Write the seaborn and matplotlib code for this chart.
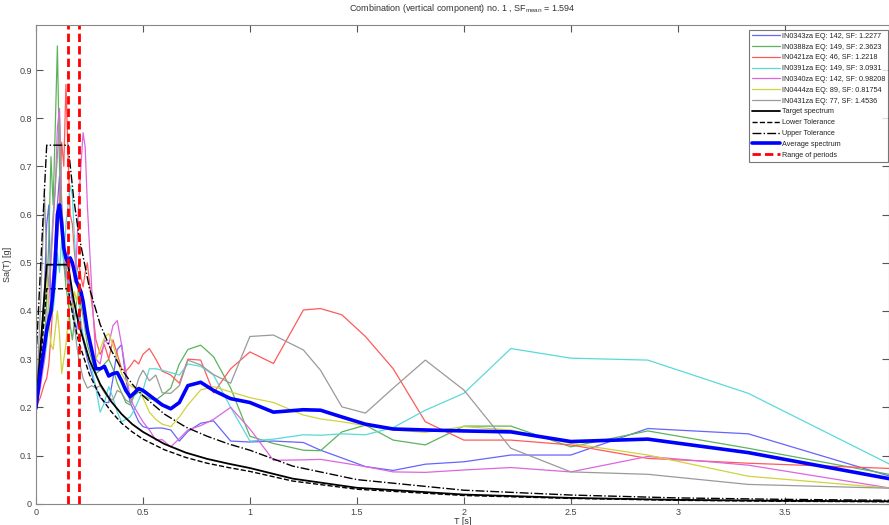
import matplotlib
matplotlib.use("Agg")
import matplotlib.pyplot as plt
import seaborn as sns
import pandas as pd

# ---------------- data ----------------
periods = [0, 0.02, 0.04, 0.05, 0.06, 0.07, 0.08, 0.09, 0.10, 0.11, 0.12, 0.13, 0.14, 0.15,
           0.16, 0.17, 0.18, 0.19, 0.20, 0.21, 0.22, 0.23, 0.24, 0.26, 0.28, 0.30, 0.32, 0.34,
           0.36, 0.38, 0.40, 0.42, 0.44, 0.46, 0.48, 0.50, 0.53, 0.56, 0.59, 0.63, 0.67, 0.71,
           0.77, 0.83, 0.91, 1.00, 1.11, 1.25, 1.33, 1.43, 1.54, 1.67, 1.82, 2.00, 2.22, 2.50,
           2.86, 3.33, 4.00]

rec_IN0343za = [0.20, 0.30, 0.45, 0.58, 0.62, 0.42, 0.48, 0.55, 0.62, 0.68, 0.60, 0.50, 0.47, 0.52,
                0.45, 0.42, 0.38, 0.36, 0.40, 0.37, 0.34, 0.32, 0.30, 0.27, 0.24, 0.22, 0.21, 0.21,
                0.26, 0.32, 0.33, 0.26, 0.21, 0.19, 0.17, 0.16, 0.156, 0.157, 0.157, 0.153, 0.13, 0.15,
                0.167, 0.172, 0.13, 0.128, 0.13, 0.127, 0.111, 0.095, 0.077, 0.069, 0.082, 0.087, 0.101, 0.101,
                0.156, 0.145, 0.056]
rec_IN0388za = [0.20, 0.27, 0.33, 0.42, 0.55, 0.72, 0.62, 0.78, 0.95, 0.70, 0.55, 0.50, 0.45, 0.42,
                0.37, 0.34, 0.38, 0.42, 0.44, 0.41, 0.39, 0.36, 0.33, 0.30, 0.27, 0.277, 0.29, 0.30,
                0.28, 0.25, 0.23, 0.21, 0.205, 0.225, 0.232, 0.225, 0.218, 0.215, 0.225, 0.24, 0.29, 0.32,
                0.329, 0.305, 0.24, 0.14, 0.125, 0.111, 0.11, 0.149, 0.163, 0.132, 0.122, 0.161, 0.161, 0.118,
                0.151, 0.115, 0.06]
rec_IN0421za = [0.20, 0.22, 0.25, 0.26, 0.29, 0.35, 0.42, 0.50, 0.55, 0.62, 0.75, 0.70, 0.87, 0.72,
                0.60, 0.58, 0.52, 0.48, 0.50, 0.47, 0.45, 0.48, 0.50, 0.42, 0.34, 0.31, 0.33, 0.30,
                0.34, 0.31, 0.28, 0.275, 0.285, 0.298, 0.29, 0.31, 0.322, 0.30, 0.275, 0.267, 0.25, 0.30,
                0.298, 0.23, 0.28, 0.315, 0.291, 0.402, 0.405, 0.392, 0.347, 0.28, 0.17, 0.132, 0.132, 0.122,
                0.094, 0.084, 0.073]
rec_IN0391za = [0.20, 0.26, 0.30, 0.33, 0.38, 0.43, 0.40, 0.45, 0.52, 0.48, 0.55, 0.50, 0.58, 0.62,
                0.66, 0.64, 0.55, 0.48, 0.42, 0.38, 0.35, 0.33, 0.31, 0.28, 0.24, 0.19, 0.21, 0.243,
                0.22, 0.19, 0.17, 0.175, 0.18, 0.195, 0.215, 0.236, 0.28, 0.28, 0.277, 0.272, 0.267, 0.29,
                0.285, 0.267, 0.20, 0.13, 0.134, 0.143, 0.142, 0.145, 0.143, 0.158, 0.194, 0.229, 0.322, 0.302,
                0.298, 0.229, 0.08]
rec_IN0340za = [0.20, 0.24, 0.30, 0.36, 0.42, 0.50, 0.58, 0.65, 0.78, 0.82, 0.62, 0.55, 0.48, 0.45,
                0.50, 0.50, 0.46, 0.52, 0.63, 0.70, 0.77, 0.74, 0.62, 0.45, 0.30, 0.29, 0.34, 0.33,
                0.37, 0.38, 0.33, 0.275, 0.22, 0.20, 0.185, 0.17, 0.153, 0.132, 0.133, 0.118, 0.135, 0.153,
                0.162, 0.175, 0.20, 0.155, 0.09, 0.091, 0.092, 0.085, 0.077, 0.066, 0.065, 0.07, 0.075, 0.066,
                0.098, 0.08, 0.032]
rec_IN0444za = [0.20, 0.28, 0.42, 0.50, 0.38, 0.33, 0.32, 0.36, 0.40, 0.35, 0.27, 0.30, 0.33, 0.38,
                0.42, 0.40, 0.44, 0.42, 0.46, 0.43, 0.40, 0.37, 0.34, 0.31, 0.30, 0.32, 0.345, 0.353,
                0.33, 0.30, 0.27, 0.255, 0.245, 0.24, 0.238, 0.22, 0.19, 0.175, 0.165, 0.16, 0.18, 0.205,
                0.236, 0.243, 0.232, 0.22, 0.21, 0.184, 0.176, 0.17, 0.162, 0.153, 0.148, 0.16, 0.153, 0.125,
                0.101, 0.057, 0.032]
rec_IN0431za = [0.20, 0.40, 0.64, 0.50, 0.45, 0.52, 0.60, 0.66, 0.72, 0.80, 0.62, 0.55, 0.50, 0.45,
                0.42, 0.40, 0.37, 0.33, 0.30, 0.28, 0.26, 0.25, 0.24, 0.245, 0.24, 0.245, 0.23, 0.22,
                0.215, 0.235, 0.23, 0.215, 0.21, 0.23, 0.26, 0.277, 0.255, 0.267, 0.23, 0.229, 0.245, 0.298,
                0.288, 0.268, 0.25, 0.347, 0.35, 0.319, 0.277, 0.201, 0.188, 0.24, 0.298, 0.236, 0.115, 0.066,
                0.061, 0.04, 0.032]
average_spectrum = [0.20, 0.27, 0.33, 0.36, 0.38, 0.40, 0.44, 0.50, 0.60, 0.62, 0.58, 0.53, 0.51, 0.50,
                    0.51, 0.50, 0.48, 0.46, 0.45, 0.44, 0.42, 0.39, 0.36, 0.32, 0.28, 0.28, 0.285, 0.265,
                    0.27, 0.272, 0.255, 0.235, 0.222, 0.23, 0.239, 0.235, 0.225, 0.215, 0.205, 0.197, 0.21, 0.245,
                    0.252, 0.235, 0.218, 0.21, 0.19, 0.195, 0.194, 0.18, 0.165, 0.155, 0.153, 0.151, 0.149, 0.129,
                    0.134, 0.106, 0.051]

target_periods = [0, 0.05, 0.10, 0.15, 0.175, 0.20, 0.25, 0.30, 0.35, 0.40, 0.45, 0.50, 0.60, 0.70,
                  0.80, 0.90, 1.00, 1.20, 1.50, 2.00, 2.50, 3.00, 3.50, 4.00]
target_spectrum = [0.20, 0.496, 0.496, 0.496, 0.425, 0.372, 0.298, 0.248, 0.213, 0.186, 0.165, 0.149,
                   0.124, 0.106, 0.093, 0.083, 0.074, 0.052, 0.033, 0.019, 0.012, 0.008, 0.006, 0.005]
lower_tolerance = [0.18, 0.446, 0.446, 0.446, 0.383, 0.335, 0.268, 0.223, 0.192, 0.167, 0.149, 0.134,
                   0.112, 0.096, 0.084, 0.075, 0.067, 0.047, 0.030, 0.017, 0.011, 0.007, 0.005, 0.004]
upper_tolerance = [0.30, 0.744, 0.744, 0.744, 0.638, 0.558, 0.447, 0.372, 0.320, 0.279, 0.248, 0.224,
                   0.186, 0.159, 0.140, 0.124, 0.111, 0.078, 0.050, 0.028, 0.018, 0.012, 0.009, 0.007]
period_range = [0.15, 0.20]

record_names = ["IN0343za EQ: 142, SF: 1.2277", "IN0388za EQ: 149, SF: 2.3623",
                "IN0421za EQ: 46, SF: 1.2218", "IN0391za EQ: 149, SF: 3.0931",
                "IN0340za EQ: 142, SF: 0.98208", "IN0444za EQ: 89, SF: 0.81754",
                "IN0431za EQ: 77, SF: 1.4536"]
record_values = [rec_IN0343za, rec_IN0388za, rec_IN0421za, rec_IN0391za,
                 rec_IN0340za, rec_IN0444za, rec_IN0431za]
record_colors = ["#6464ff", "#5cb35c", "#ff5a5a", "#5ad9d9", "#dd66dd", "#d2d23c", "#9a9a9a"]

# ---------------- style ----------------
sns.set_style("ticks")
plt.rcParams["font.family"] = ["Liberation Sans", "DejaVu Sans"]
plt.rcParams["mathtext.fontset"] = "custom"
plt.rcParams["mathtext.rm"] = "Liberation Sans"
plt.rcParams["mathtext.it"] = "Liberation Sans"

fig = plt.figure(figsize=(8.89, 5.25), dpi=100)
ax = fig.add_axes([36 / 889, 1 - 503.7 / 525, 853.5 / 889, (503.7 - 25) / 525])

for name, vals, col in zip(record_names, record_values, record_colors):
    df = pd.DataFrame({"T": periods, "Sa": vals})
    sns.lineplot(data=df, x="T", y="Sa", ax=ax, color=col, lw=0.9, label=name,
                 estimator=None, sort=False)

dft = pd.DataFrame({"T": target_periods, "target": target_spectrum,
                    "lower": lower_tolerance, "upper": upper_tolerance})
sns.lineplot(data=dft, x="T", y="target", ax=ax, color="black", lw=1.3,
             label="Target spectrum", estimator=None, sort=False)
sns.lineplot(data=dft, x="T", y="lower", ax=ax, color="black", lw=1.0, ls="--",
             label="Lower Tolerance", estimator=None, sort=False)
sns.lineplot(data=dft, x="T", y="upper", ax=ax, color="black", lw=1.0, ls="-.",
             label="Upper Tolerance", estimator=None, sort=False)

dfm = pd.DataFrame({"T": periods, "Sa": average_spectrum})
sns.lineplot(data=dfm, x="T", y="Sa", ax=ax, color="#0000ff", lw=2.6,
             label="Average spectrum", estimator=None, sort=False)

for i, p in enumerate(period_range):
    ax.axvline(p, color="#ff0000", lw=2.0, ls=(0, (3, 1.5)),
               label="Range of periods" if i == 0 else None)

ax.set_xlim(0, 3.99)
ax.set_ylim(0, 0.9934)
ax.set_xticks([0, 0.5, 1, 1.5, 2, 2.5, 3, 3.5])
ax.set_xticklabels(["0", "0.5", "1", "1.5", "2", "2.5", "3", "3.5"])
ax.set_yticks([0, 0.1, 0.2, 0.3, 0.4, 0.5, 0.6, 0.7, 0.8, 0.9])
ax.set_yticklabels(["0", "0.1", "0.2", "0.3", "0.4", "0.5", "0.6", "0.7", "0.8", "0.9"])
ax.tick_params(direction="in", length=5, width=0.8, colors="#555555", labelsize=6.5,
               top=True, right=True, labelcolor="#444444", pad=3)
for s in ax.spines.values():
    s.set_color("#888888")
    s.set_linewidth(0.8)

ax.set_xlabel("T [s]", fontsize=6.5, color="#333333", labelpad=0)
ax.set_ylabel("Sa(T) [g]", fontsize=6.5, color="#333333", labelpad=5)
ax.set_title(r"Combination (vertical component) no. 1 , SF$_{\mathrm{mean}}$ = 1.594",
             fontsize=6.5, color="#333333", pad=10)

leg = ax.legend(loc="upper right", bbox_to_anchor=(0.9985, 0.99), fontsize=5.2,
                frameon=True, fancybox=False, handlelength=3.8, handletextpad=0.3,
                borderpad=0.4, labelspacing=0.52, borderaxespad=0)
leg.get_frame().set_edgecolor("#555555")
leg.get_frame().set_linewidth(0.8)
for t in leg.get_texts():
    t.set_color("#222222")

fig.savefig("out.png", dpi=100)
